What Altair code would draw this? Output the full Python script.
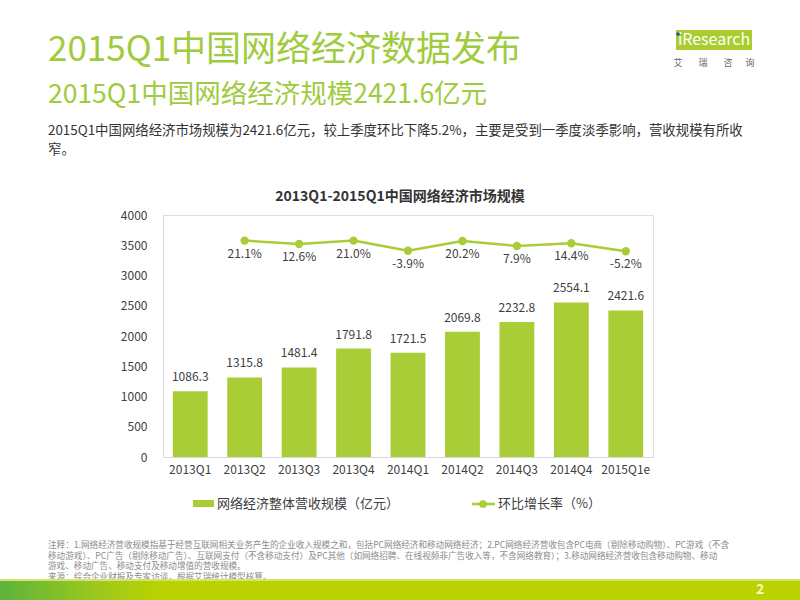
import altair as alt
import pandas as pd

quarters = ["2013Q1", "2013Q2", "2013Q3", "2013Q4", "2014Q1", "2014Q2", "2014Q3", "2014Q4", "2015Q1e"]
revenue = [1086.3, 1315.8, 1481.4, 1791.8, 1721.5, 2069.8, 2232.8, 2554.1, 2421.6]
growth_quarters = ["2013Q2", "2013Q3", "2013Q4", "2014Q1", "2014Q2", "2014Q3", "2014Q4", "2015Q1e"]
growth = [21.1, 12.6, 21.0, -3.9, 20.2, 7.9, 14.4, -5.2]
y_ticks = [0, 500, 1000, 1500, 2000, 2500, 3000, 3500, 4000]

title_main = "2015Q1中国网络经济数据发布"
title_sub = "2015Q1中国网络经济规模2421.6亿元"
para_lines = ["2015Q1中国网络经济市场规模为2421.6亿元，较上季度环比下降5.2%，主要是受到一季度淡季影响，营收规模有所收",
              "窄。"]
chart_title = "2013Q1-2015Q1中国网络经济市场规模"
legend_bar = "网络经济整体营收规模（亿元）"
legend_line = "环比增长率（%）"
logo_chars = ["艾", "瑞", "咨", "询"]
notes = [
    "注释：1.网络经济营收规模指基于经营互联网相关业务产生的企业收入规模之和，包括PC网络经济和移动网络经济；2.PC网络经济营收包含PC电商（剔除移动购物）、PC游戏（不含",
    "移动游戏）、PC广告（剔除移动广告）、互联网支付（不含移动支付）及PC其他（如网络招聘、在线视频非广告收入等，不含网络教育）；3.移动网络经济营收包含移动购物、移动",
    "游戏、移动广告、移动支付及移动增值的营收规模。",
    "来源：综合企业财报及专家访谈，根据艾瑞统计模型核算。",
]

FONT = "Noto Sans CJK SC"
GREEN = "#a9cd36"
TITLE_GREEN = "#9fcb40"
TEXT = "#404040"

bars_df = pd.DataFrame({"q": quarters, "v": revenue})
line_df = pd.DataFrame({"q": growth_quarters, "g": growth,
                        "lab": [f"{g:.1f}%" for g in growth]})

xenc = alt.X("q:N", sort=quarters,
             scale=alt.Scale(paddingInner=0.36, paddingOuter=0.18),
             axis=alt.Axis(title=None, labelAngle=0, ticks=False, domainColor="#d9d9d9",
                           labelFont=FONT, labelFontSize=12, labelColor=TEXT, labelPadding=7))
yenc = alt.Y("v:Q", scale=alt.Scale(domain=[0, 4000]),
             axis=alt.Axis(title=None, values=y_ticks, grid=False, ticks=False, format="d",
                           domainColor="#d9d9d9", labelFont=FONT, labelFontSize=12,
                           labelColor=TEXT, labelPadding=16))

bar_base = alt.Chart(bars_df).encode(x=xenc, y=yenc)
bars = bar_base.mark_bar(color=GREEN)
bar_labels = bar_base.mark_text(font=FONT, fontSize=12, color=TEXT, baseline="bottom", dy=-7).encode(
    text=alt.Text("v:Q", format=".1f"))
bar_layer = alt.layer(bars, bar_labels)

y2 = alt.Y("g:Q", scale=alt.Scale(domain=[-511, 84]), axis=None)
line_base = alt.Chart(line_df).encode(x=alt.X("q:N", sort=quarters), y=y2)
line = line_base.mark_line(color=GREEN, strokeWidth=2.5)
pts = line_base.mark_point(filled=True, color=GREEN, size=70, opacity=1)
pct_labels = line_base.mark_text(font=FONT, fontSize=12, color=TEXT, baseline="top", dy=8).encode(text="lab:N")
line_layer = alt.layer(line, pts, pct_labels)

one = pd.DataFrame({"a": [0]})

def txt(s, x, y, size, color, weight="normal", align="left", baseline="middle", font=FONT):
    return alt.Chart(one).mark_text(text=s, font=font, fontSize=size, color=color, fontWeight=weight,
                                    align=align, baseline=baseline).encode(
        x=alt.value(x), y=alt.value(y))

def box(x, x2, y, y2, color):
    return alt.Chart(one).mark_rect(color=color).encode(
        x=alt.value(x), x2=alt.value(x2), y=alt.value(y), y2=alt.value(y2))

OX, OY = 163, 215  # plot origin on page

deco = [
    txt(title_main, 48 - OX, 50 - OY, 35, TITLE_GREEN),
    txt(title_sub, 48 - OX, 95 - OY, 26.5, TITLE_GREEN),
    txt(para_lines[0], 48 - OX, 131 - OY, 13.4, "#333333"),
    txt(para_lines[1], 48 - OX, 150 - OY, 13.4, "#333333"),
    txt(chart_title, 400 - OX, 197 - OY, 14, "#333333", weight="bold", align="center"),
    box(193 - OX, 214 - OX, 500 - OY, 507 - OY, GREEN),
    txt(legend_bar, 217 - OX, 504 - OY, 13, TEXT),
    alt.Chart(one).mark_rule(color=GREEN, strokeWidth=2.5).encode(
        x=alt.value(472 - OX), x2=alt.value(495 - OX), y=alt.value(504 - OY)),
    alt.Chart(one).mark_point(filled=True, color=GREEN, size=60, opacity=1).encode(
        x=alt.value(483 - OX), y=alt.value(504 - OY)),
    txt(legend_line, 498 - OX, 504 - OY, 13, TEXT),
]
for i, s in enumerate(notes):
    deco.append(txt(s, 48 - OX, 545 + i * 10.7 - OY, 8.6, "#8c8c8c"))

footer = alt.Chart(one).mark_rect(
    color=alt.LinearGradient(gradient="linear", x1=0, x2=1, y1=0, y2=0,
                             stops=[alt.GradientStop(color="#5db33c", offset=0),
                                    alt.GradientStop(color="#9cc81e", offset=0.12),
                                    alt.GradientStop(color="#bad300", offset=0.2),
                                    alt.GradientStop(color="#bad300", offset=1)])).encode(
    x=alt.value(0 - OX), x2=alt.value(800 - OX), y=alt.value(580 - OY), y2=alt.value(600 - OY))
deco.append(footer)
deco.append(box(0 - OX, 800 - OX, 579 - OY, 581 - OY, "#d4e36a"))
deco.append(txt("2", 760 - OX, 590 - OY, 14, "#f7f7c8", weight="bold", align="center"))

# logo
deco.append(box(676 - OX, 752 - OX, 30 - OY, 50 - OY, "#a9cc2f"))
deco.append(txt("iResearch", 714 - OX, 40 - OY, 16, "white", align="center"))
deco.append(alt.Chart(one).mark_point(filled=True, color="#1f5fa8", size=14, opacity=1).encode(
    x=alt.value(678 - OX), y=alt.value(34 - OY)))
for cx, ch in zip([678, 703, 728, 750], logo_chars):
    deco.append(txt(ch, cx - OX, 63 - OY, 9, "#666666", align="center"))

main = alt.layer(bar_layer, line_layer).resolve_scale(y="independent")

chart = alt.layer(main, *deco).properties(
    width=490, height=242,
    autosize=alt.AutoSizeParams(type="none"),
    padding={"left": OX, "top": OY, "right": 800 - OX - 490, "bottom": 600 - OY - 242},
).configure_view(stroke=None).configure(background="white")

chart.save("out.html", embed_options={"renderer": "svg", "actions": False})
